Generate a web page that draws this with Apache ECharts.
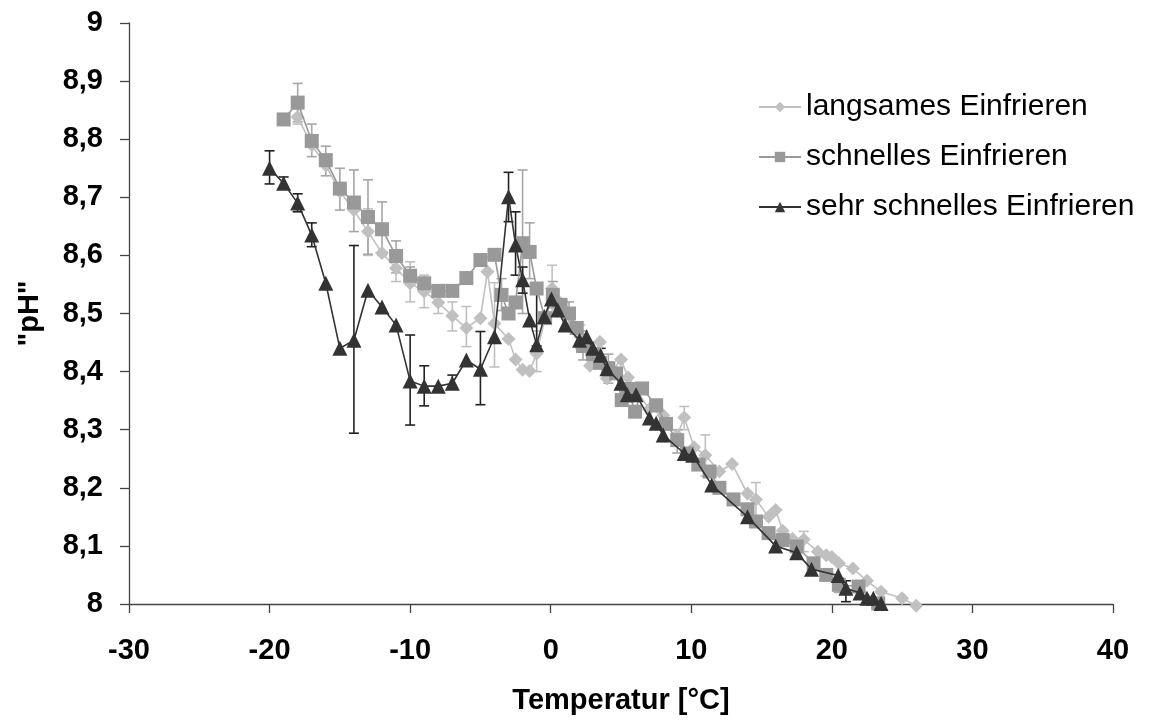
<!DOCTYPE html>
<html>
<head>
<meta charset="utf-8">
<script src="https://cdn.jsdelivr.net/npm/echarts@6/dist/echarts.min.js"></script>
<style>html,body{margin:0;padding:0;background:#fff}#c{width:1150px;height:724px}</style>
</head>
<body>
<div id="c"></div>
<script>
// ---- data ----
const seriesNames = ['langsames Einfrieren', 'schnelles Einfrieren', 'sehr schnelles Einfrieren'];
const xTicks = [-30, -20, -10, 0, 10, 20, 30, 40];
const yTicks = [8, 8.1, 8.2, 8.3, 8.4, 8.5, 8.6, 8.7, 8.8, 8.9, 9];

// langsames Einfrieren (diamonds): [temperature, pH]
const langsam = [
  [-18, 8.838], [-17, 8.79], [-16, 8.755], [-15, 8.71], [-14, 8.678], [-13, 8.641], [-12, 8.604],
  [-11, 8.578], [-10, 8.552], [-9, 8.538], [-8, 8.519], [-7, 8.496], [-6, 8.475], [-5, 8.492],
  [-4.5, 8.572], [-4, 8.483], [-3, 8.456], [-2.5, 8.421], [-2, 8.403], [-1.5, 8.401], [-1, 8.431],
  [0.1, 8.543], [0.6, 8.52], [1.5, 8.48], [2.1, 8.46], [2.8, 8.41], [3.5, 8.451], [4, 8.388],
  [5, 8.421], [5.5, 8.39], [6.2, 8.365], [7, 8.335], [8, 8.325], [9, 8.29], [9.5, 8.321],
  [10.2, 8.27], [11, 8.256], [12, 8.228], [12.9, 8.241], [14, 8.19], [14.6, 8.18], [15.5, 8.15],
  [16, 8.162], [16.5, 8.126], [17.2, 8.112], [18, 8.111], [19, 8.09], [19.6, 8.084], [20, 8.081],
  [20.5, 8.07], [21.5, 8.061], [22.5, 8.04], [23.5, 8.021], [25, 8.01], [26, 7.997]
];
// schnelles Einfrieren (squares)
const schnell = [
  [-19, 8.834], [-18, 8.863], [-17, 8.797], [-16, 8.764], [-15, 8.715], [-14, 8.691], [-13, 8.666],
  [-12, 8.645], [-11, 8.599], [-10, 8.565], [-9, 8.552], [-8, 8.539], [-7, 8.539], [-6, 8.561],
  [-5, 8.592], [-4, 8.601], [-3.5, 8.532], [-3, 8.50], [-2.5, 8.519], [-2, 8.621], [-1.5, 8.606],
  [-1, 8.543], [-0.4, 8.492], [0.15, 8.532], [0.7, 8.515], [1.3, 8.50], [1.85, 8.475], [2.3, 8.444],
  [3, 8.43], [3.5, 8.415], [4.1, 8.406], [4.65, 8.397], [5.05, 8.351], [5.5, 8.37], [6, 8.331],
  [6.5, 8.371], [7.5, 8.342], [8.2, 8.31], [9, 8.282], [9.7, 8.259], [10.5, 8.24], [11.3, 8.228],
  [12, 8.20], [13, 8.18], [14, 8.163], [14.6, 8.142], [15.5, 8.122], [16.5, 8.11], [17.5, 8.099],
  [18.7, 8.07], [19.6, 8.05], [20.5, 8.033], [21.9, 8.03], [23.3, 8.001]
];
// sehr schnelles Einfrieren (triangles)
const sehrSchnell = [
  [-20, 8.75], [-19, 8.724], [-18, 8.69], [-17, 8.635], [-16, 8.552], [-15, 8.44], [-14, 8.454],
  [-13, 8.54], [-12, 8.511], [-11, 8.48], [-10, 8.384], [-9, 8.375], [-8, 8.375], [-7, 8.38],
  [-6, 8.42], [-5, 8.404], [-4, 8.46], [-3, 8.701], [-2.5, 8.618], [-2, 8.558], [-1.5, 8.489],
  [-1, 8.446], [-0.45, 8.495], [0.05, 8.525], [0.5, 8.506], [1.02, 8.48], [2.05, 8.454], [2.55, 8.46],
  [3, 8.44], [3.55, 8.428], [4, 8.405], [5, 8.38], [5.45, 8.36], [6.07, 8.36], [7.02, 8.32],
  [7.5, 8.311], [8, 8.291], [9.5, 8.259], [10.1, 8.256], [11.45, 8.205], [14, 8.15], [16, 8.10],
  [17.5, 8.088], [18.55, 8.06], [20.45, 8.049], [21, 8.027], [22, 8.019], [22.5, 8.01], [22.95, 8.01],
  [23.5, 8.001]
];

// error bars: [temperature, low, high]
const langsamErr = [
  [-18, 8.826, 8.852], [-13, 8.60, 8.68], [-11, 8.555, 8.592], [-10, 8.52, 8.589], [-9, 8.51, 8.566],
  [-8, 8.50, 8.54], [-7, 8.47, 8.52], [-6, 8.443, 8.512], [-4, 8.408, 8.553], [-1, 8.40, 8.47],
  [0.1, 8.50, 8.583], [2.1, 8.44, 8.48], [9.5, 8.30, 8.34], [11, 8.22, 8.291], [14.6, 8.15, 8.209],
  [18, 8.09, 8.125]
];
const schnellErr = [
  [-18, 8.83, 8.896], [-17, 8.77, 8.826], [-16, 8.737, 8.788], [-15, 8.678, 8.75], [-14, 8.641, 8.747],
  [-13, 8.602, 8.73], [-12, 8.60, 8.692], [-11, 8.57, 8.625], [-10, 8.55, 8.58], [-3.5, 8.505, 8.56],
  [-2, 8.50, 8.747], [-1.5, 8.56, 8.656], [0.15, 8.51, 8.555], [1.3, 8.48, 8.52], [2.3, 8.42, 8.47],
  [4.1, 8.38, 8.43], [9, 8.26, 8.30], [20.5, 8.02, 8.045]
];
const sehrSchnellErr = [
  [-20, 8.723, 8.78], [-19, 8.715, 8.735], [-18, 8.675, 8.706], [-17, 8.615, 8.656], [-14, 8.294, 8.617],
  [-10, 8.308, 8.463], [-9, 8.341, 8.41], [-7, 8.37, 8.394], [-5, 8.343, 8.469], [-3, 8.658, 8.743],
  [-2.5, 8.566, 8.675], [-2, 8.535, 8.58], [-1, 8.444, 8.547], [3.55, 8.41, 8.44], [8, 8.28, 8.305],
  [21, 8.004, 8.04]
];

// ---- chart ----
const colors = ['#c0c0c0', '#999999', '#333333'];
const errColors = ['#c0c0c0', '#a6a6a6', '#222222'];
const FONT = '"Liberation Sans", Arial, sans-serif';

function errSeries(data, color) {
  return {
    type: 'custom',
    data: data,
    z: 1,
    silent: true,
    encode: { x: 0, y: [1, 2] },
    clip: false,
    renderItem: function (params, api) {
      const x = api.value(0), lo = api.value(1), hi = api.value(2);
      const p1 = api.coord([x, hi]);
      const p2 = api.coord([x, lo]);
      const w = 5;
      const st = { stroke: color, lineWidth: 1.6 };
      return {
        type: 'group',
        children: [
          { type: 'line', shape: { x1: p1[0], y1: p1[1], x2: p2[0], y2: p2[1] }, style: st },
          { type: 'line', shape: { x1: p1[0] - w, y1: p1[1], x2: p1[0] + w, y2: p1[1] }, style: st },
          { type: 'line', shape: { x1: p2[0] - w, y1: p2[1], x2: p2[0] + w, y2: p2[1] }, style: st }
        ]
      };
    }
  };
}

function lineSeries(name, data, color, symbol, size, z) {
  return {
    name: name,
    type: 'line',
    data: data,
    symbol: symbol,
    symbolSize: size,
    clip: false,
    z: z,
    lineStyle: { color: color, width: 1.6 },
    itemStyle: { color: color },
    emphasis: { disabled: true },
    animation: false
  };
}

const chart = echarts.init(document.getElementById('c'));
chart.setOption({
  animation: false,
  backgroundColor: '#ffffff',
  grid: { left: 129, right: 37, top: 23, bottom: 120 },
  legend: {
    orient: 'vertical',
    left: 753,
    top: 87,
    itemWidth: 42,
    itemHeight: 13,
    itemGap: 20,
    selectedMode: false,
    data: seriesNames,
    textStyle: { fontFamily: FONT, fontSize: 30, color: '#000', lineHeight: 30 }
  },
  xAxis: {
    type: 'value',
    min: xTicks[0],
    max: xTicks[xTicks.length - 1],
    interval: 10,
    name: 'Temperatur [°C]',
    nameLocation: 'middle',
    nameGap: 82,
    nameTextStyle: { fontFamily: FONT, fontSize: 29, fontWeight: 'bold', color: '#000' },
    axisLine: { onZero: false, lineStyle: { color: '#444', width: 1.3 } },
    axisTick: { show: true, inside: false, length: 9, lineStyle: { color: '#444', width: 1.3 } },
    axisLabel: { margin: 32, fontFamily: FONT, fontSize: 29, fontWeight: 'bold', color: '#000' },
    splitLine: { show: false }
  },
  yAxis: {
    type: 'value',
    min: yTicks[0],
    max: yTicks[yTicks.length - 1],
    interval: 0.1,
    name: '"pH"',
    nameLocation: 'middle',
    nameGap: 85,
    nameRotate: 90,
    nameTextStyle: { fontFamily: FONT, fontSize: 29, fontWeight: 'bold', color: '#000' },
    axisLine: { show: true, onZero: false, lineStyle: { color: '#444', width: 1.3 } },
    axisTick: { show: true, inside: false, length: 9, lineStyle: { color: '#444', width: 1.3 } },
    axisLabel: {
      margin: 26, fontFamily: FONT, fontSize: 29, fontWeight: 'bold', color: '#000',
      formatter: function (v) { return (Math.round(v * 10) / 10).toString().replace('.', ','); }
    },
    splitLine: { show: false }
  },
  series: [
    errSeries(langsamErr, errColors[0]),
    errSeries(schnellErr, errColors[1]),
    errSeries(sehrSchnellErr, errColors[2]),
    lineSeries(seriesNames[0], langsam, colors[0], 'diamond', 14, 3),
    lineSeries(seriesNames[1], schnell, colors[1], 'rect', 14, 4),
    lineSeries(seriesNames[2], sehrSchnell, colors[2], 'triangle', 15, 5)
  ]
});
</script>
</body>
</html>
